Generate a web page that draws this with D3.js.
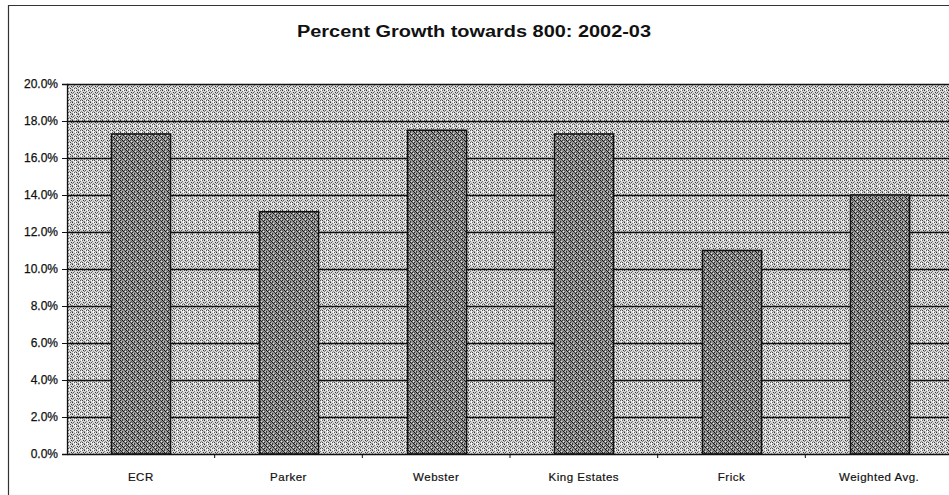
<!DOCTYPE html>
<html><head><meta charset="utf-8">
<script src="https://cdn.jsdelivr.net/npm/d3@7"></script>
<style>body{margin:0;background:#fff;} svg{display:block;font-family:"Liberation Sans",Arial,sans-serif;}</style>
</head><body>
<svg id="c" width="949" height="495"></svg>
<script>
const categories = ["ECR","Parker","Webster","King Estates","Frick","Weighted Avg."];
const values = [0.173,0.131,0.175,0.173,0.110,0.140];
const yTicks = [0,0.02,0.04,0.06,0.08,0.10,0.12,0.14,0.16,0.18,0.20];
const title = "Percent Growth towards 800: 2002-03";

const svg = d3.select("#c");
const defs = svg.append("defs");
function dither(id, base, dots, size){
  const p = defs.append("pattern").attr("id",id).attr("width",size).attr("height",size).attr("patternUnits","userSpaceOnUse");
  p.append("rect").attr("width",size).attr("height",size).attr("fill",base);
  dots.forEach(d=>p.append("rect").attr("x",d[0]).attr("y",d[1]).attr("width",1).attr("height",1).attr("fill",d[2]));
}
dither("bg","#d8d8d8",[[0,0,"#333"],[2,1,"#777"],[1,2,"#555"],[3,3,"#888"],[4,0,"#666"],[5,2,"#333"],[2,4,"#555"],[0,5,"#888"],[4,4,"#444"],[5,5,"#999"],[3,5,"#fff"],[1,4,"#fff"],[3,0,"#fff"],[0,3,"#777"]],6);
dither("bar","#969696",[[0,0,"#111"],[2,0,"#444"],[1,1,"#222"],[3,1,"#ddd"],[0,2,"#555"],[2,2,"#111"],[4,2,"#333"],[1,3,"#666"],[3,3,"#111"],[5,3,"#eee"],[0,4,"#222"],[4,4,"#444"],[2,5,"#333"],[5,5,"#111"],[5,1,"#555"],[1,5,"#ccc"]],6);

const m = {left:67, top:84, right:953, bottom:454};
const x = d3.scaleBand().domain(categories).range([m.left,m.right]).paddingInner(0.6).paddingOuter(0.3);
const band = d3.scaleBand().domain(categories).range([m.left,m.right]);
const y = d3.scaleLinear().domain([0,0.20]).range([m.bottom,m.top]);

// frame
svg.append("path").attr("d",`M8.5,495 V5.5 H949`).attr("fill","none").attr("stroke","#333").attr("stroke-width",1.2);

// title
svg.append("text").attr("x",297).attr("y",37).attr("font-size",16).attr("font-weight","bold").attr("fill","#111")
  .attr("textLength",354).attr("lengthAdjust","spacingAndGlyphs").text(title);

// plot background
svg.append("rect").attr("x",m.left).attr("y",m.top).attr("width",m.right-m.left).attr("height",m.bottom-m.top).attr("fill","url(#bg)");

// gridlines
svg.append("g").selectAll("line").data(yTicks.slice(1)).join("line")
  .attr("x1",m.left).attr("x2",m.right).attr("y1",d=>Math.round(y(d))+0.5).attr("y2",d=>Math.round(y(d))+0.5)
  .attr("stroke","#111").attr("stroke-width",1.3);

// bars
svg.append("g").selectAll("rect").data(categories).join("rect")
  .attr("x",(d)=>Math.round(x(d))+0.5).attr("width",x.bandwidth())
  .attr("y",(d,i)=>y(values[i])).attr("height",(d,i)=>y(0)-y(values[i]))
  .attr("fill","url(#bar)").attr("stroke","#111").attr("stroke-width",1.5);

// y axis
const ya = svg.append("g").attr("transform",`translate(${m.left},0)`)
  .call(d3.axisLeft(y).tickValues(yTicks).tickFormat(d3.format(".1%")).tickSize(5).tickPadding(4));
ya.select(".domain").attr("stroke","#111").attr("stroke-width",1.3);
ya.selectAll(".tick line").attr("stroke","#111");
ya.selectAll("text").attr("font-size",12).attr("fill","#111").attr("font-family","Liberation Sans,Arial,sans-serif")
  .attr("stroke","#111").attr("stroke-width",0.25);

// x axis
const xa = svg.append("g").attr("transform",`translate(0,${m.bottom})`)
  .call(d3.axisBottom(band).tickSize(0).tickPadding(19));
xa.select(".domain").attr("stroke","#111").attr("stroke-width",1.3);
xa.selectAll("text").attr("font-size",11.5).attr("fill","#111").attr("letter-spacing","0.5px")
  .attr("font-family","Liberation Sans,Arial,sans-serif").attr("stroke","#111").attr("stroke-width",0.2);
svg.append("g").selectAll("line").data(categories.slice(1)).join("line")
  .attr("x1",d=>band(d)).attr("x2",d=>band(d)).attr("y1",m.bottom).attr("y2",m.bottom+4)
  .attr("stroke","#111");
</script>
</body></html>
